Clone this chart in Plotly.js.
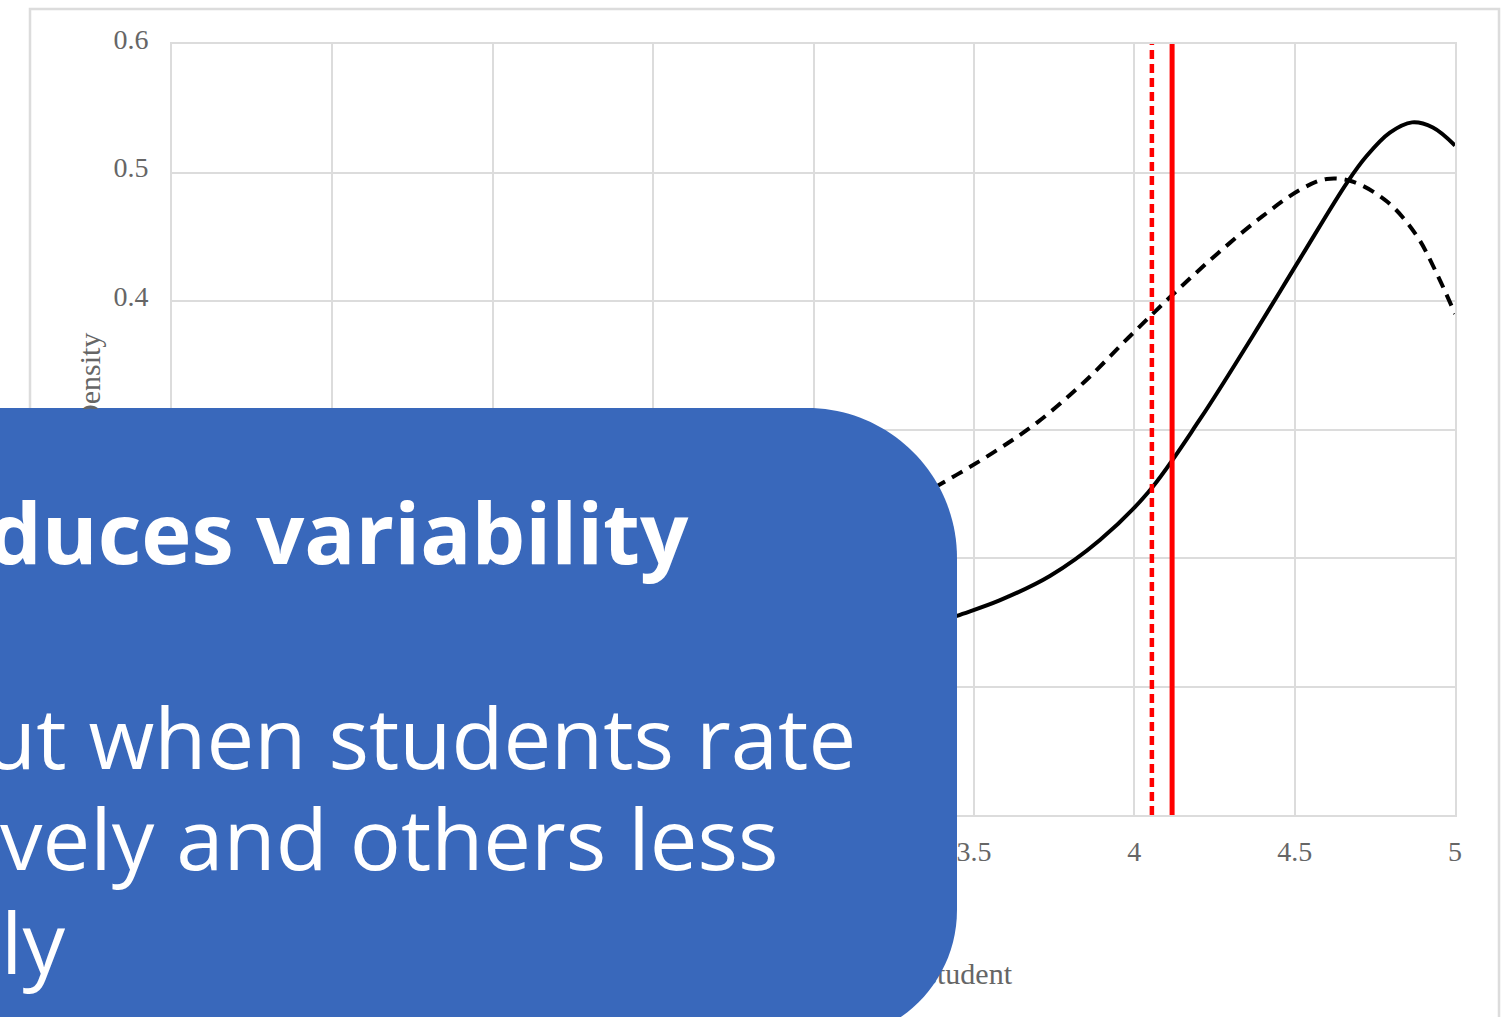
<!DOCTYPE html>
<html>
<head>
<meta charset="utf-8">
<script src="https://cdn.plot.ly/plotly-3.0.1.min.js"></script>
<style>html,body{margin:0;padding:0;background:#fff;overflow:hidden}</style>
</head>
<body>
<div id="chart" style="width:1506px;height:1017px"></div>
<script>
// ---- data ----
const xSolid = [1.0, 1.5, 2.0, 2.5, 3.0, 3.25, 3.447, 3.58, 3.737, 3.893, 4.043, 4.205, 4.37, 4.517, 4.663, 4.725, 4.797, 4.866, 4.931, 5.0];
const ySolid = [0.01, 0.025, 0.045, 0.075, 0.117, 0.138, 0.155, 0.167, 0.186, 0.214, 0.251, 0.308, 0.373, 0.433, 0.492, 0.513, 0.531, 0.539, 0.535, 0.521];
const xDashed = [1.0, 1.5, 2.0, 2.5, 3.0, 3.2, 3.379, 3.56, 3.70, 3.84, 3.98, 4.12, 4.26, 4.40, 4.52, 4.60, 4.68, 4.79, 4.88, 4.94, 5.0];
const yDashed = [0.03, 0.055, 0.095, 0.145, 0.205, 0.23, 0.255, 0.282, 0.306, 0.336, 0.371, 0.405, 0.437, 0.466, 0.487, 0.495, 0.493, 0.477, 0.451, 0.423, 0.39];
const meanDashed = 4.055;
const meanSolid = 4.118;
const yTop = 0.6;
const xTickVals = [1, 1.5, 2, 2.5, 3, 3.5, 4, 4.5, 5];
const xTickText = ['1', '1.5', '2', '2.5', '3', '3.5', '4', '4.5', '5'];
const yTickVals = [0, 0.1, 0.2, 0.3, 0.4, 0.5, 0.6];
const yTickText = ['0', '0.1', '0.2', '0.3', '0.4', '0.5', '0.6'];
const yTitle = 'Density';
const xTitle = 'Mean rating by student';
const boxLines = ['duces variability', 'ut when students rate', 'vely and others less', 'ly'];

// ---- layout helpers (pixel -> paper) ----
const M = {l: 172, r: 51, t: 44, b: 10};
const W = 1506, H = 1017;
const PW = W - M.l - M.r, PH = H - M.t - M.b;
const px = p => (p - M.l) / PW;
const py = p => (H - M.b - p) / PH;
const pt = (a, b) => px(a).toFixed(5) + ',' + py(b).toFixed(5);

const BLUE = '#3968bb';
const k = 0.5523;
const R1 = 150, R2 = 130, bx = 957, by0 = 408, by1 = 1040, bl = -60;
const boxPath = 'M' + pt(bl, by0) +
  ' L' + pt(bx - R1, by0) +
  ' C' + pt(bx - R1 + R1 * k, by0) + ' ' + pt(bx, by0 + R1 - R1 * k) + ' ' + pt(bx, by0 + R1) +
  ' L' + pt(bx, by1 - R2) +
  ' C' + pt(bx, by1 - R2 + R2 * k) + ' ' + pt(bx - R2 + R2 * k, by1) + ' ' + pt(bx - R2, by1) +
  ' L' + pt(bl, by1) + ' Z';

const serif = 'Liberation Serif, Times New Roman, serif';

const traces = [
  {x: xSolid, y: ySolid, type: 'scatter', mode: 'lines',
   line: {color: '#000', width: 4, shape: 'spline', smoothing: 1}, hoverinfo: 'skip'},
  {x: xDashed, y: yDashed, type: 'scatter', mode: 'lines',
   line: {color: '#000', width: 4, dash: '12px,8px', shape: 'spline', smoothing: 1}, hoverinfo: 'skip'},
  {x: [meanDashed, meanDashed], y: [0, yTop], type: 'scatter', mode: 'lines',
   line: {color: '#ff0000', width: 4.5, dash: '9px,5px'}, hoverinfo: 'skip'},
  {x: [meanSolid, meanSolid], y: [0, yTop], type: 'scatter', mode: 'lines',
   line: {color: '#ff0000', width: 5}, hoverinfo: 'skip'},
  // x-axis title drawn as a text trace on a hidden helper subplot (so the blue box covers its left part)
  {x: [px(1012)], y: [0.5], xaxis: 'x2', yaxis: 'y2', type: 'scatter', mode: 'text', text: [xTitle],
   textposition: 'middle left', cliponaxis: false,
   textfont: {family: serif, size: 30, color: '#666'}, hoverinfo: 'skip'}
];

const tickFont = {family: serif, size: 28, color: '#666'};
const boxFont = {family: 'Open Sans, Noto Sans, sans-serif', size: 85, color: '#fff'};

const layout = {
  width: W, height: H, margin: M, showlegend: false,
  paper_bgcolor: '#fff', plot_bgcolor: '#fff',
  xaxis: {range: [1, 5], tickvals: xTickVals, ticktext: xTickText, showgrid: true,
          gridcolor: '#dcdcdc', gridwidth: 2, zeroline: false, showline: true, mirror: true,
          linecolor: '#dcdcdc', linewidth: 2, ticks: '', tickfont: tickFont, ticklabelstandoff: 10,
          fixedrange: true},
  yaxis: {range: [0, 0.6], domain: [py(815), 1], tickvals: yTickVals, ticktext: yTickText, showgrid: true,
          gridcolor: '#dcdcdc', gridwidth: 2, zeroline: false, showline: true, mirror: true,
          linecolor: '#dcdcdc', linewidth: 2, ticks: '', tickfont: tickFont, ticklabelstandoff: 16,
          ticklabelshift: -5, fixedrange: true},
  xaxis2: {domain: [0, 1], range: [0, 1], anchor: 'y2', visible: false, fixedrange: true},
  yaxis2: {domain: [py(997), py(955)], range: [0, 1], anchor: 'x2', visible: false, fixedrange: true},
  shapes: [
    {type: 'rect', xref: 'paper', yref: 'paper', x0: px(30), x1: px(1499), y0: py(9), y1: py(1040),
     line: {color: '#dcdcdc', width: 2.5}, fillcolor: 'rgba(0,0,0,0)', layer: 'below'},
    {type: 'path', xref: 'paper', yref: 'paper', path: boxPath, fillcolor: BLUE,
     line: {width: 0}, layer: 'above'}
  ],
  annotations: [
    {xref: 'paper', yref: 'paper', x: px(89), y: py(380), xanchor: 'center', yanchor: 'middle',
     text: yTitle, textangle: -90, showarrow: false,
     font: {family: serif, size: 30, color: '#666'}},
    // blue patch (same colour as the box) that hides the part of the y title under the box
    {xref: 'paper', yref: 'paper', x: px(20), y: py(408.6), xanchor: 'left', yanchor: 'top',
     text: ' ', width: 160, height: 90, bgcolor: BLUE, borderpad: 0, borderwidth: 0, showarrow: false,
     font: {size: 10, color: BLUE}},
    {xref: 'paper', yref: 'paper', x: px(-14), y: py(531), xanchor: 'left', yanchor: 'middle',
     text: '<b>' + boxLines[0] + '</b>', showarrow: false, font: boxFont},
    {xref: 'paper', yref: 'paper', x: px(-18), y: py(736), xanchor: 'left', yanchor: 'middle',
     text: boxLines[1], showarrow: false, font: boxFont},
    {xref: 'paper', yref: 'paper', x: px(-2), y: py(837), xanchor: 'left', yanchor: 'middle',
     text: boxLines[2], showarrow: false, font: boxFont},
    {xref: 'paper', yref: 'paper', x: px(-1), y: py(941), xanchor: 'left', yanchor: 'middle',
     text: boxLines[3], showarrow: false, font: boxFont}
  ]
};

Plotly.newPlot('chart', traces, layout, {staticPlot: true, displayModeBar: false});
</script>
</body>
</html>
